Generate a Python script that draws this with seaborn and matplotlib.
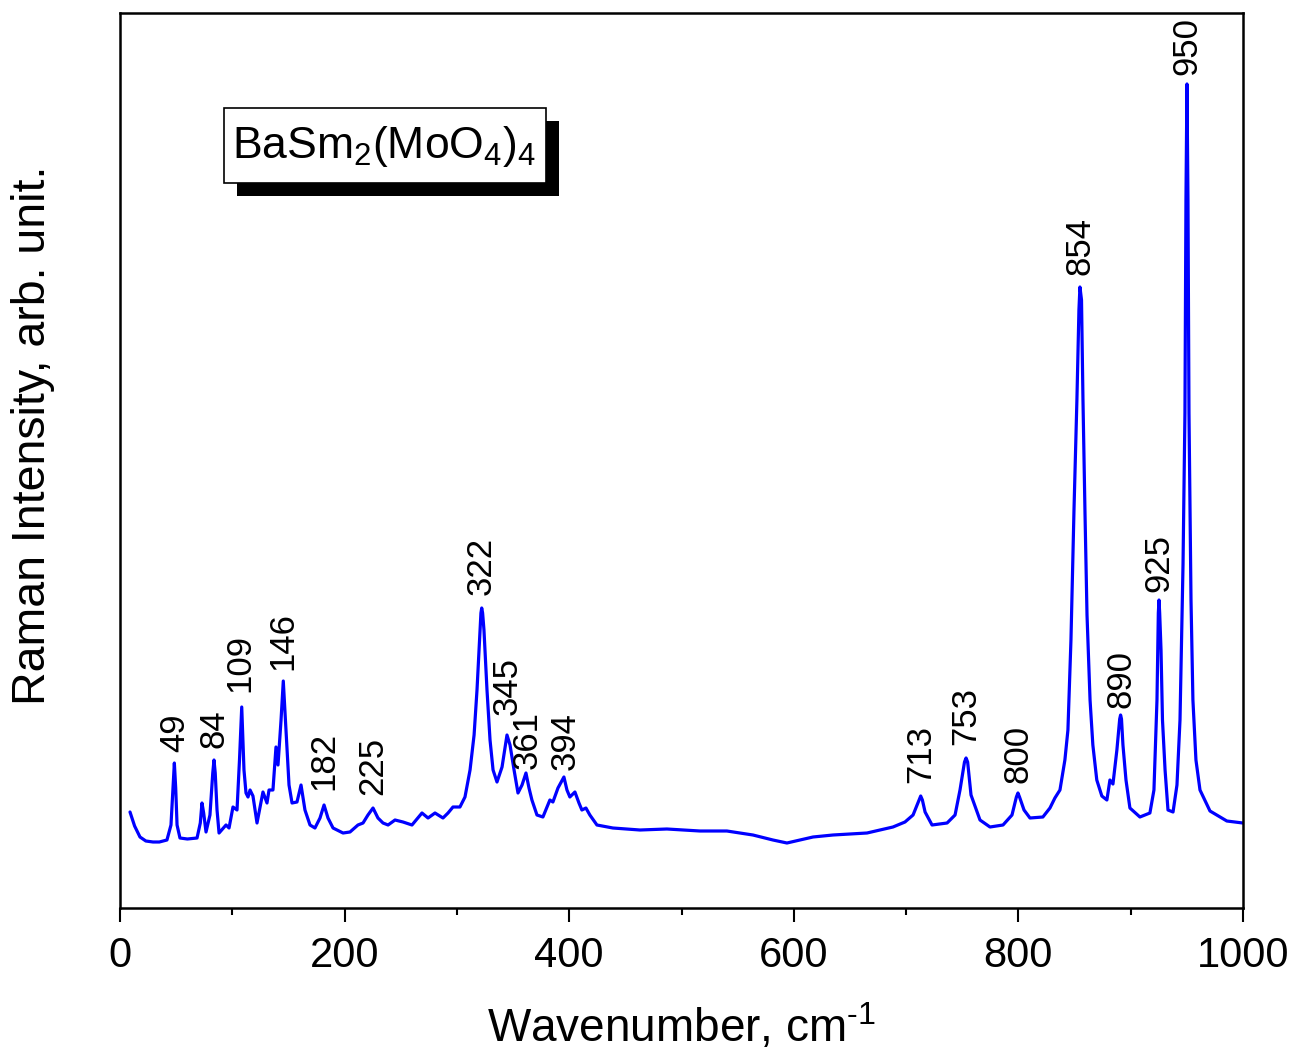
import numpy as np
import pandas as pd
import seaborn as sns
import matplotlib
matplotlib.use("Agg")
import matplotlib.pyplot as plt
import matplotlib.patheffects as pe
from matplotlib.patches import Rectangle

# ---- data ----
wavenumber = [8.9, 13.0, 17.8, 23.0, 29.4, 35.0, 41.8, 45.4, 47.2, 48.4, 49.6, 50.8, 53.4, 60.0, 68.6, 71.5, 73.0,
              74.5, 76.6, 80.1, 82.6, 83.7, 84.8, 86.4, 88.2, 94.4, 97.1, 100.6, 104.2, 106.4,
              108.4, 110.4, 112.2, 114.0, 115.8, 118.4, 122.0, 127.3, 130.9, 132.7,
              136.2, 138.9, 140.7, 143.4, 145.4, 147.8, 150.5, 153.2, 157.6, 161.2,
              164.7, 169.2, 173.6, 178.1, 181.7, 185.2, 189.7, 198.6, 204.8, 211.9,
              216.4, 220.8, 225.3, 229.7, 234.2, 238.7, 244.9, 252.0, 260.0, 268.9,
              274.3, 280.5, 287.6, 292.1, 296.5, 302.7, 307.2, 311.7, 315.3, 317.9,
              320.6, 321.4, 322.1, 322.9, 324.1, 326.8, 329.5, 332.2, 335.7, 340.2, 344.6, 347.3,
              350.9, 354.4, 358.0, 361.5, 364.2, 366.8, 371.3, 376.6, 382.8, 385.5,
              390.0, 395.3, 398.0, 400.6, 405.1, 408.7, 411.3, 414.9, 418.4, 424.7,
              438.9, 463.0, 487.0, 516.4, 540.4, 563.6, 581.4, 593.9, 605.4, 617.1,
              634.9, 665.2, 688.3, 699.0, 706.2, 711.5, 713.0, 714.5, 716.9, 723.1, 736.5, 743.6,
              748.0, 752.0, 753.4, 754.8, 757.8, 765.8, 774.7, 786.3, 794.3, 798.2, 799.6, 801.0, 805.0, 810.3,
              821.8, 828.1, 832.5, 837.0, 841.4, 844.1, 846.8, 849.5, 852.1, 853.9,
              854.8, 856.2, 857.5, 859.3, 861.1, 863.8, 866.3, 869.8, 874.3, 878.8,
              881.5, 884.2, 887.7, 890.2, 891.0, 891.8, 893.1, 895.8, 899.3, 908.2, 917.1, 920.7,
              923.4, 924.6, 925.2, 925.8, 927.0, 928.3, 930.6, 933.2, 937.7, 941.2, 943.9, 946.6,
              948.3, 949.2, 950.1, 951.0, 951.9, 953.7, 955.4, 958.1, 961.7, 970.6,
              985.6, 999.8]
intensity = [96, 82, 71, 67, 66, 66, 68, 83, 120, 145, 120, 83, 70, 69, 70, 85, 105,
             95, 76, 93, 135, 148, 135, 98, 75, 83, 80, 101, 98, 148,
             201, 138, 115, 111, 118, 112, 85, 116, 105, 118,
             118, 161, 143, 188, 227, 178, 123, 105, 106, 123,
             98, 83, 80, 90, 103, 90, 80, 75, 76, 83,
             85, 93, 100, 90, 85, 83, 88, 86, 83, 95,
             90, 95, 90, 95, 101, 101, 111, 138, 173, 218,
             278, 295, 300, 295, 278, 218, 168, 138, 126, 141, 173, 163,
             138, 115, 123, 135, 120, 108, 93, 91, 108, 106,
             120, 131, 118, 111, 116, 105, 98, 100, 93, 83,
             80, 78, 79, 77, 77, 73, 68, 65, 68, 71,
             73, 75, 81, 86, 93, 108, 112, 108, 96, 83, 85, 93,
             118, 146, 150, 146, 113, 88, 81, 83, 93, 111, 115, 111, 98, 90,
             91, 100, 110, 118, 148, 178, 268, 398, 508, 598,
             621, 608, 508, 395, 293, 208, 163, 128, 112, 108,
             128, 124, 158, 189, 193, 189, 163, 128, 100, 91, 95, 118,
             208, 295, 308, 295, 258, 188, 138, 98, 96, 123, 188, 344,
             495, 708, 824, 708, 495, 308, 208, 148, 118, 97,
             87, 85]

peak_labels = ["49", "84", "109", "146", "182", "225", "322", "345", "361",
               "394", "713", "753", "800", "854", "890", "925", "950"]
label_x = [48.5, 84, 107, 145, 181.5, 225, 322, 344.5, 363,
           396, 713, 753, 800, 855, 891, 925, 950]
label_y = [156, 160, 216, 238, 118, 113, 313, 193, 139,
           138, 125, 163, 125, 633, 200, 316, 833]

df = pd.DataFrame({"Wavenumber": wavenumber, "Intensity": intensity})

# ---- style ----
sns.set_theme(style="ticks")
plt.rcParams["font.family"] = ["Liberation Sans", "DejaVu Sans"]
plt.rcParams["mathtext.fontset"] = "custom"
plt.rcParams["mathtext.rm"] = "Liberation Sans"
plt.rcParams["mathtext.it"] = "Liberation Sans:italic"
plt.rcParams["mathtext.bf"] = "Liberation Sans:bold"

fig = plt.figure(figsize=(12.95, 10.59), dpi=100)
ax = fig.add_axes([120/1295, 1-908/1059, 1123/1295, (908-12.5)/1059])

sns.lineplot(data=df, x="Wavenumber", y="Intensity", ax=ax,
             color="#0000FF", linewidth=2.3, sort=False, estimator=None)

ax.set_xlim(0, 1000)
ax.set_ylim(0, 895.5)

for s in ax.spines.values():
    s.set_visible(True)
    s.set_linewidth(1.8)
    s.set_color("black")

ax.set_xticks([0, 200, 400, 600, 800, 1000])
ax.set_xticks([100, 300, 500, 700, 900], minor=True)
ax.set_yticks([])
ax.tick_params(axis="x", which="major", direction="out", length=10, width=1.5,
               labelsize=30, colors="black", pad=10)
ax.tick_params(axis="x", which="minor", direction="out", length=5, width=1.5,
               colors="black")
ax.tick_params(left=False, right=False, top=False)

ax.set_xlabel(r"Wavenumber, cm$^{\text{-1}}$", fontsize=33, color="black")
ax.set_ylabel("Raman Intensity, arb. unit.", fontsize=33.5, color="black")
ax.xaxis.set_label_coords(0.5, -0.105)
ax.yaxis.set_label_coords(-0.058, 0.528)

for t, x, y in zip(peak_labels, label_x, label_y):
    ax.text(x, y, t, rotation=90, ha="center", va="bottom", fontsize=25,
            color="black")

# title box with drop shadow
box = Rectangle((0.0926, 0.8096), 0.2867, 0.0838, transform=ax.transAxes,
                facecolor="white", edgecolor="black", linewidth=1.2, zorder=5,
                path_effects=[pe.SimplePatchShadow(offset=(9.5, -9.5),
                                                   shadow_rgbFace="black",
                                                   alpha=1.0),
                              pe.Normal()])
ax.add_patch(box)
ax.text(0.0995, 0.850, r"BaSm$_\mathregular{2}$(MoO$_\mathregular{4}$)$_\mathregular{4}$",
        transform=ax.transAxes, fontsize=32, ha="left", va="center",
        color="black", zorder=6)

fig.savefig("out.png", dpi=100)
